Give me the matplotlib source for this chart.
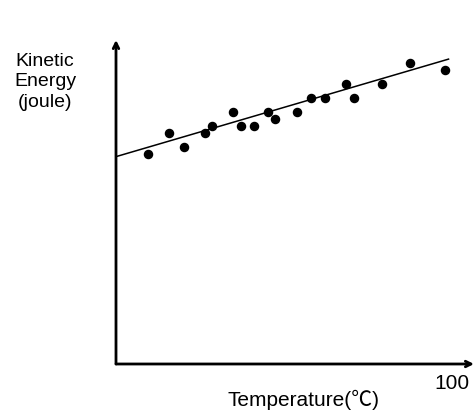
import matplotlib
matplotlib.use("Agg")
import matplotlib.pyplot as plt

# Messpunkte
temp = [9.4, 15.5, 19.7, 25.8, 27.9, 34.1, 36.2, 40.2, 44.3, 46.3,
        52.6, 56.6, 60.8, 66.9, 69.0, 77.2, 85.4, 95.7]
energy = [64.7, 71.3, 66.9, 71.3, 73.4, 77.8, 73.4, 73.4, 77.8, 75.6,
          77.8, 82.1, 82.1, 86.5, 82.1, 86.5, 93.0, 90.8]

# Trendlinie (Endpunkte)
line_x = [0.0, 96.6]
line_y = [64.0, 94.1]

plt.rcParams['font.family'] = ['Liberation Sans', 'Noto Sans CJK SC', 'DejaVu Sans']

W, H = 476, 415
fig = plt.figure(figsize=(W / 100, H / 100), dpi=100)
left, right, bottom, top = 116, 474, 364, 40
ax = fig.add_axes([left / W, 1 - bottom / H, (right - left) / W, (bottom - top) / H])
ax.set_xlim(0, 104)
ax.set_ylim(0, 100)

ax.plot(line_x, line_y, color="black", lw=1.1)
ax.scatter(temp, energy, s=34, color="black", zorder=3)

# Achsen als Pfeile
for s in ax.spines.values():
    s.set_visible(False)
ax.set_xticks([])
ax.set_yticks([])
ax.annotate("", xy=(1, 0), xytext=(0, 0), xycoords="axes fraction",
            arrowprops=dict(arrowstyle="->", lw=2.0, color="black", shrinkA=0, shrinkB=0))
ax.annotate("", xy=(0, 1), xytext=(0, 0), xycoords="axes fraction",
            arrowprops=dict(arrowstyle="->", lw=2.0, color="black", shrinkA=0, shrinkB=0))

# Beschriftungen
fig.text(45 / W, 1 - 82 / H, "Kinetic\nEnergy\n(joule)", ha="center", va="center",
         fontsize=14, linespacing=1.25)
fig.text(303 / W, 1 - 400 / H, "Temperature(℃)", ha="center", va="center", fontsize=15)
fig.text(452 / W, 1 - 383 / H, "100", ha="center", va="center", fontsize=15)

fig.savefig("out.png", dpi=100)
